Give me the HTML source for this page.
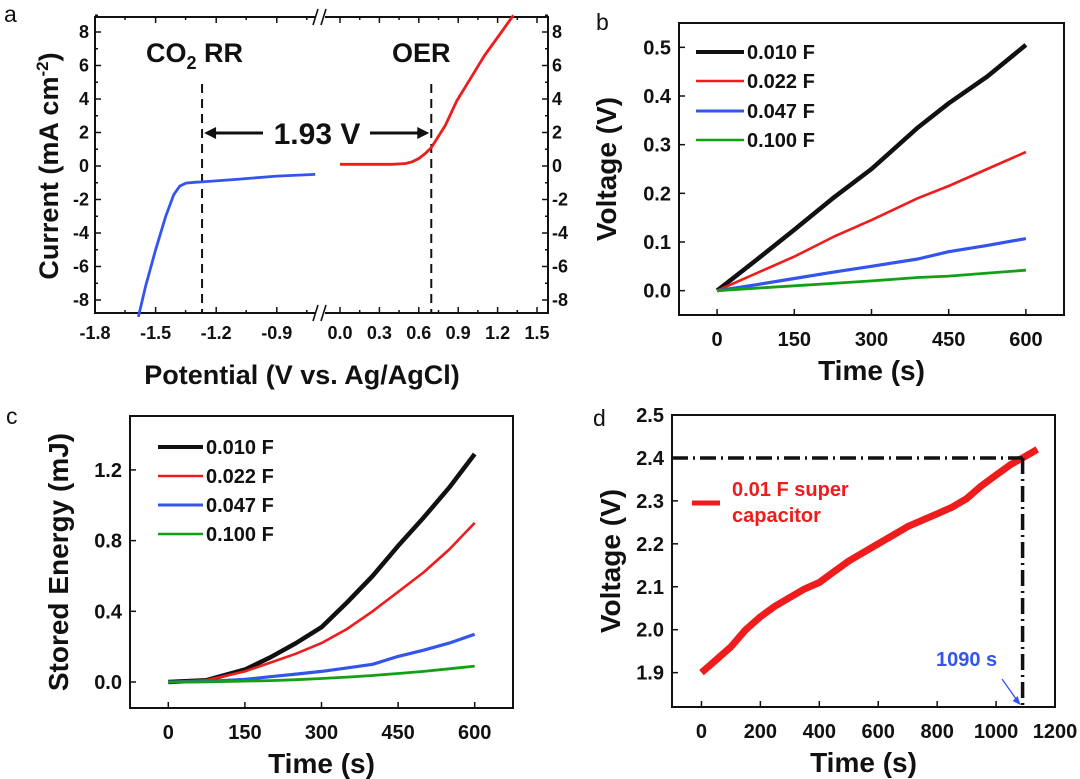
<!DOCTYPE html>
<html><head><meta charset="utf-8">
<style>
html,body{margin:0;padding:0;background:#fff;}
svg{display:block;font-family:"Liberation Sans",Arial,sans-serif;}
.tk{font-size:18px;font-weight:bold;fill:#111;}
.tt{font-size:27px;font-weight:bold;fill:#111;}
.lg{font-size:20px;font-weight:bold;fill:#111;}
.pl{font-size:23px;fill:#111;}
</style></head>
<body>
<svg id="fig" width="1080" height="779" viewBox="0 0 1080 779" xmlns="http://www.w3.org/2000/svg"></svg>
<script>
// ---------- Panel a data ----------
const aBlueX = [-1.585,-1.55,-1.5,-1.45,-1.41,-1.38,-1.35,-1.3,-1.27,-1.1,-0.9,-0.71];
const aBlueY = [-9,-7.2,-5,-3,-1.7,-1.2,-1.02,-0.97,-0.95,-0.8,-0.6,-0.5];
const aRedX = [0.0,0.2,0.4,0.5,0.55,0.6,0.65,0.695,0.8,0.89,1.0,1.1,1.23,1.32];
const aRedY = [0.1,0.1,0.1,0.15,0.25,0.45,0.75,1.1,2.4,3.9,5.3,6.6,8.0,9.0];
const aLeftTicks = [-1.8,-1.5,-1.2,-0.9];
const aRightTicks = [0.0,0.3,0.6,0.9,1.2,1.5];
const aYTicks = [8,6,4,2,0,-2,-4,-6,-8];
const aDashX = [-1.27,0.695];
// ---------- Panel b data ----------
const bTime = [0,75,150,225,300,390,450,525,600];
const bV010 = [0,0.062,0.125,0.19,0.25,0.335,0.385,0.44,0.505];
const bV022 = [0,0.035,0.07,0.11,0.145,0.19,0.215,0.25,0.285];
const bV047 = [0,0.012,0.025,0.038,0.05,0.065,0.08,0.093,0.107];
const bV100 = [0,0.005,0.01,0.015,0.02,0.027,0.03,0.036,0.042];
const bXTicks = [0,150,300,450,600];
const bYTicks = [0.0,0.1,0.2,0.3,0.4,0.5];
const capLabels = ["0.010 F","0.022 F","0.047 F","0.100 F"];
// ---------- Panel c data ----------
const cTime = [0,75,150,200,250,300,350,400,450,500,550,600];
const cE010 = [0,0.01,0.07,0.14,0.22,0.31,0.45,0.6,0.77,0.93,1.1,1.29];
const cE022 = [0,0.01,0.06,0.11,0.16,0.22,0.3,0.4,0.51,0.62,0.75,0.9];
const cE047 = [0,0.003,0.015,0.03,0.045,0.06,0.08,0.1,0.145,0.18,0.22,0.27];
const cE100 = [0,0.001,0.005,0.008,0.013,0.02,0.028,0.037,0.048,0.06,0.075,0.09];
const cXTicks = [0,150,300,450,600];
const cYTicks = [0.0,0.4,0.8,1.2];
// ---------- Panel d data ----------
const dTime = [0,50,100,150,200,250,300,350,400,450,500,550,600,650,700,750,800,850,900,950,1000,1050,1090,1140];
const dVolt = [1.9,1.93,1.96,2.0,2.03,2.055,2.075,2.095,2.11,2.135,2.16,2.18,2.2,2.22,2.24,2.255,2.27,2.285,2.305,2.335,2.36,2.385,2.4,2.42];
const dXTicks = [0,200,400,600,800,1000,1200];
const dYTicks = [1.9,2.0,2.1,2.2,2.3,2.4,2.5];
const dMark = [1090,2.4];

const svg = document.getElementById('fig');
const NS = 'http://www.w3.org/2000/svg';
function mk(tag, attrs, parent){ const e=document.createElementNS(NS,tag); for(const k in attrs) e.setAttribute(k,attrs[k]); (parent||svg).appendChild(e); return e; }
function txt(s, attrs, parent){ const e=mk('text',attrs,parent); e.textContent=s; return e; }
function lin(x0,x1,p0,p1){ return v=>p0+(v-x0)*(p1-p0)/(x1-x0); }
function path(xs,ys,fx,fy){ return xs.map((v,i)=>(i?'L':'M')+fx(v).toFixed(1)+' '+fy(ys[i]).toFixed(1)).join(' '); }
const BLK='#111', RED='#ee1c1c', BLU='#3355ee', GRN='#14a014';

// ================= Panel a =================
(function(){
  const g = mk('g',{});
  
  
  const L=95,R=548,T=17,B=313;
  const xl = lin(-1.8,-0.3,95,398);
  const xr = lin(0,0.3,340,379.4);
  const y = lin(0,8,166,32);
  const brk=320;
  const bx = mk('rect',{x:L,y:T,width:R-L,height:B-T,fill:'none',stroke:BLK,'stroke-width':2},g);
   
  mk('rect',{x:brk-5,y:T-3,width:10,height:6,fill:'#fff'},g);
  mk('rect',{x:brk-5,y:B-3,width:10,height:6,fill:'#fff'},g);
  [T,B].forEach(yy=>{ mk('line',{x1:brk-7,y1:yy+8,x2:brk-2,y2:yy-8,stroke:BLK,'stroke-width':1.6},g); mk('line',{x1:brk+1,y1:yy+8,x2:brk+6,y2:yy-8,stroke:BLK,'stroke-width':1.6},g); });
  aLeftTicks.forEach(v=>{
    const X=xl(v);
    mk('line',{x1:X,y1:B,x2:X,y2:B-6,stroke:BLK,'stroke-width':1.5},g);
    mk('line',{x1:X,y1:T,x2:X,y2:T+6,stroke:BLK,'stroke-width':1.5},g);
    mk('line',{x1:X+30,y1:B,x2:X+30,y2:B-3,stroke:BLK,'stroke-width':1.5},g);
    mk('line',{x1:X+30,y1:T,x2:X+30,y2:T+3,stroke:BLK,'stroke-width':1.5},g);
    const t=txt(v.toFixed(1),{x:X,y:B+26,'text-anchor':'middle',class:'tk'},g);
     
  });
  aRightTicks.forEach(v=>{
    const X=xr(v);
    mk('line',{x1:X,y1:B,x2:X,y2:B-6,stroke:BLK,'stroke-width':1.5},g);
    mk('line',{x1:X,y1:T,x2:X,y2:T+6,stroke:BLK,'stroke-width':1.5},g);
    if(X+19<R){ mk('line',{x1:X+19.7,y1:B,x2:X+19.7,y2:B-3,stroke:BLK,'stroke-width':1.5},g);
    mk('line',{x1:X+19.7,y1:T,x2:X+19.7,y2:T+3,stroke:BLK,'stroke-width':1.5},g);}
    const t=txt(v.toFixed(1),{x:X,y:B+26,'text-anchor':'middle',class:'tk'},g);
     
  });
  aYTicks.forEach(v=>{
    const Y=y(v);
    mk('line',{x1:L,y1:Y,x2:L+6,y2:Y,stroke:BLK,'stroke-width':1.5},g);
    mk('line',{x1:R,y1:Y,x2:R-6,y2:Y,stroke:BLK,'stroke-width':1.5},g);
    const Ym=y(v+1);
    mk('line',{x1:L,y1:Ym,x2:L+3,y2:Ym,stroke:BLK,'stroke-width':1.5},g);
    mk('line',{x1:R,y1:Ym,x2:R-3,y2:Ym,stroke:BLK,'stroke-width':1.5},g);
    const t=txt(String(v),{x:L-6,y:Y+6,'text-anchor':'end',class:'tk'},g);
     
    const t2=txt(String(v),{x:R+4,y:Y+6,'text-anchor':'start',class:'tk'},g);
     
  });
  const dxs=[xl(aDashX[0]),xr(aDashX[1])];
  dxs.forEach(X=>{ const d=mk('line',{x1:X,y1:84,x2:X,y2:B,stroke:BLK,'stroke-width':2,'stroke-dasharray':'9,6'},g);
      });
  const pb=mk('path',{d:path(aBlueX,aBlueY,xl,y),fill:'none',stroke:BLU,'stroke-width':2.8},g);
   
  const pr=mk('path',{d:path(aRedX,aRedY,xr,y),fill:'none',stroke:RED,'stroke-width':2.8},g);
   
  const ay=133;
  mk('line',{x1:dxs[0]+10,y1:ay,x2:263,y2:ay,stroke:BLK,'stroke-width':3},g);
  mk('polygon',{points:`${dxs[0]+2},${ay} ${dxs[0]+14},${ay-6} ${dxs[0]+14},${ay+6}`,fill:BLK},g);
  mk('line',{x1:370,y1:ay,x2:dxs[1]-10,y2:ay,stroke:BLK,'stroke-width':3},g);
  mk('polygon',{points:`${dxs[1]-2},${ay} ${dxs[1]-14},${ay-6} ${dxs[1]-14},${ay+6}`,fill:BLK},g);
  const gv=txt('1.93 V',{x:317,y:ay+11,'text-anchor':'middle',class:'tt',style:'font-size:30px'},g);
   
  const co=mk('text',{x:146,y:62,class:'tt'},g);
   
  co.innerHTML='CO<tspan dy="7" style="font-size:18px">2</tspan><tspan dy="-7"> RR</tspan>';
  const oe=txt('OER',{x:392,y:62,class:'tt'},g);
   
  const xt=txt('Potential (V vs. Ag/AgCl)',{x:302,y:384,'text-anchor':'middle',class:'tt'},g);
   
  const yt=mk('text',{x:0,y:0,'text-anchor':'middle',class:'tt',transform:'translate(58,166) rotate(-90)'},g);
   
  yt.innerHTML='Current (mA cm<tspan dy="-10" style="font-size:17px">-2</tspan><tspan dy="10">)</tspan>';
  const pl=txt('a',{x:4,y:22,class:'pl'},g);
   
})();

function panel(o){
  const g=mk('g',{});
  
  
  const x=lin(o.xd[0],o.xd[1],o.L,o.R), y=lin(o.yd[0],o.yd[1],o.B,o.T);
  const fr=mk('rect',{x:o.L,y:o.T,width:o.R-o.L,height:o.B-o.T,fill:'none',stroke:BLK,'stroke-width':2},g);
   
  o.xt.forEach(v=>{ const X=x(v);
    mk('line',{x1:X,y1:o.B,x2:X,y2:o.B-6,stroke:BLK,'stroke-width':1.5},g);
    const t=txt(String(v),{x:X,y:o.B+31,'text-anchor':'middle',class:'tk',style:'font-size:20px'},g);
      });
  o.yt.forEach(v=>{ const Y=y(v);
    mk('line',{x1:o.L,y1:Y,x2:o.L+6,y2:Y,stroke:BLK,'stroke-width':1.5},g);
    const t=txt(v.toFixed(1),{x:o.L-8,y:Y+7,'text-anchor':'end',class:'tk',style:'font-size:20px'},g);
      });
  const xtt=txt(o.xTitle,{x:(o.L+o.R)/2,y:o.B+65,'text-anchor':'middle',class:'tt',style:'font-size:28px'},g);
   
  const ytt=txt(o.yTitle,{x:0,y:0,'text-anchor':'middle',class:'tt',style:'font-size:28px',transform:`translate(${o.yTx},${(o.T+o.B)/2}) rotate(-90)`},g);
   
  const pl=txt(o.letter,{x:o.lx,y:o.ly,class:'pl'},g);
   
  return {g,x,y};
}
function legend(g,x0,x1,tx,ys,cols,widths){
  ys.forEach((Y,i)=>{
    const ln=mk('line',{x1:x0,y1:Y,x2:x1,y2:Y,stroke:cols[i],'stroke-width':widths[i]},g);
     
    const t=txt(capLabels[i],{x:tx,y:Y+7,class:'lg'},g);
     
  });
}
const cols=[BLK,RED,BLU,GRN], wid=[4.5,2.6,3.2,2.8];

// ================= Panel b =================
(function(){
  const p=panel({name:'panel-b',L:679,R:1064,T:23,B:315,xd:[-74,674],yd:[-0.05,0.55],xt:bXTicks,yt:bYTicks,
    xTitle:'Time (s)',yTitle:'Voltage (V)',yTx:616,letter:'b',lx:596,ly:30});
  [bV010,bV022,bV047,bV100].forEach((s,i)=>{
    const e=mk('path',{d:path(bTime,s,p.x,p.y),fill:'none',stroke:cols[i],'stroke-width':wid[i],'stroke-linejoin':'round'},p.g);
    
    
  });
  legend(p.g,696,744,747,[52,81,111,140],cols,[4,2.6,3,2.6]);
})();

// ================= Panel c =================
(function(){
  const p=panel({name:'panel-c',L:130,R:513,T:416,B:708,xd:[-75,675],yd:[-0.147,1.505],xt:cXTicks,yt:cYTicks,
    xTitle:'Time (s)',yTitle:'Stored Energy (mJ)',yTx:68,letter:'c',lx:6,ly:424});
  [cE010,cE022,cE047,cE100].forEach((s,i)=>{
    const e=mk('path',{d:path(cTime,s,p.x,p.y),fill:'none',stroke:cols[i],'stroke-width':wid[i],'stroke-linejoin':'round'},p.g);
    
    
  });
  legend(p.g,158,203,206,[447,476,505,534],cols,[4,2.6,3,2.6]);
})();

// ================= Panel d =================
(function(){
  const p=panel({name:'panel-d',L:672,R:1055,T:415,B:707,xd:[-100,1200],yd:[1.82,2.5],xt:dXTicks,yt:dYTicks,
    xTitle:'Time (s)',yTitle:'Voltage (V)',yTx:620,letter:'d',lx:593,ly:426});
  const e=mk('path',{d:path(dTime,dVolt,p.x,p.y),fill:'none',stroke:RED,'stroke-width':7,'stroke-linejoin':'round'},p.g);
   
  const X=p.x(dMark[0]), Y=p.y(dMark[1]);
  const h=mk('line',{x1:p.x(-100),y1:Y,x2:X,y2:Y,stroke:BLK,'stroke-width':3.5,'stroke-dasharray':'16,5,2,5'},p.g);
   
  const v=mk('line',{x1:X,y1:Y,x2:X,y2:p.y(1.82),stroke:BLK,'stroke-width':3.5,'stroke-dasharray':'16,5,2,5'},p.g);
   
  const ls=mk('line',{x1:692,y1:503,x2:720,y2:503,stroke:RED,'stroke-width':5},p.g);
   
  const t1=txt('0.01 F super',{x:732,y:496,class:'lg',style:'fill:'+RED+';font-size:20px'},p.g);
   
  const t2=txt('capacitor',{x:732,y:522,class:'lg',style:'fill:'+RED+';font-size:20px'},p.g);
   
  const an=txt(dMark[0]+' s',{x:936,y:666,class:'lg',style:'fill:'+BLU+';font-size:20px'},p.g);
   
  const ar=mk('line',{x1:1002,y1:679,x2:X-3,y2:p.y(1.82)-3,stroke:BLU,'stroke-width':1.3},p.g);
   
  mk('polygon',{points:`${X-2},${p.y(1.82)-2} ${X-10},${p.y(1.82)-6} ${X-5},${p.y(1.82)-11}`,fill:BLU},p.g);
})();
</script>
</body></html>
